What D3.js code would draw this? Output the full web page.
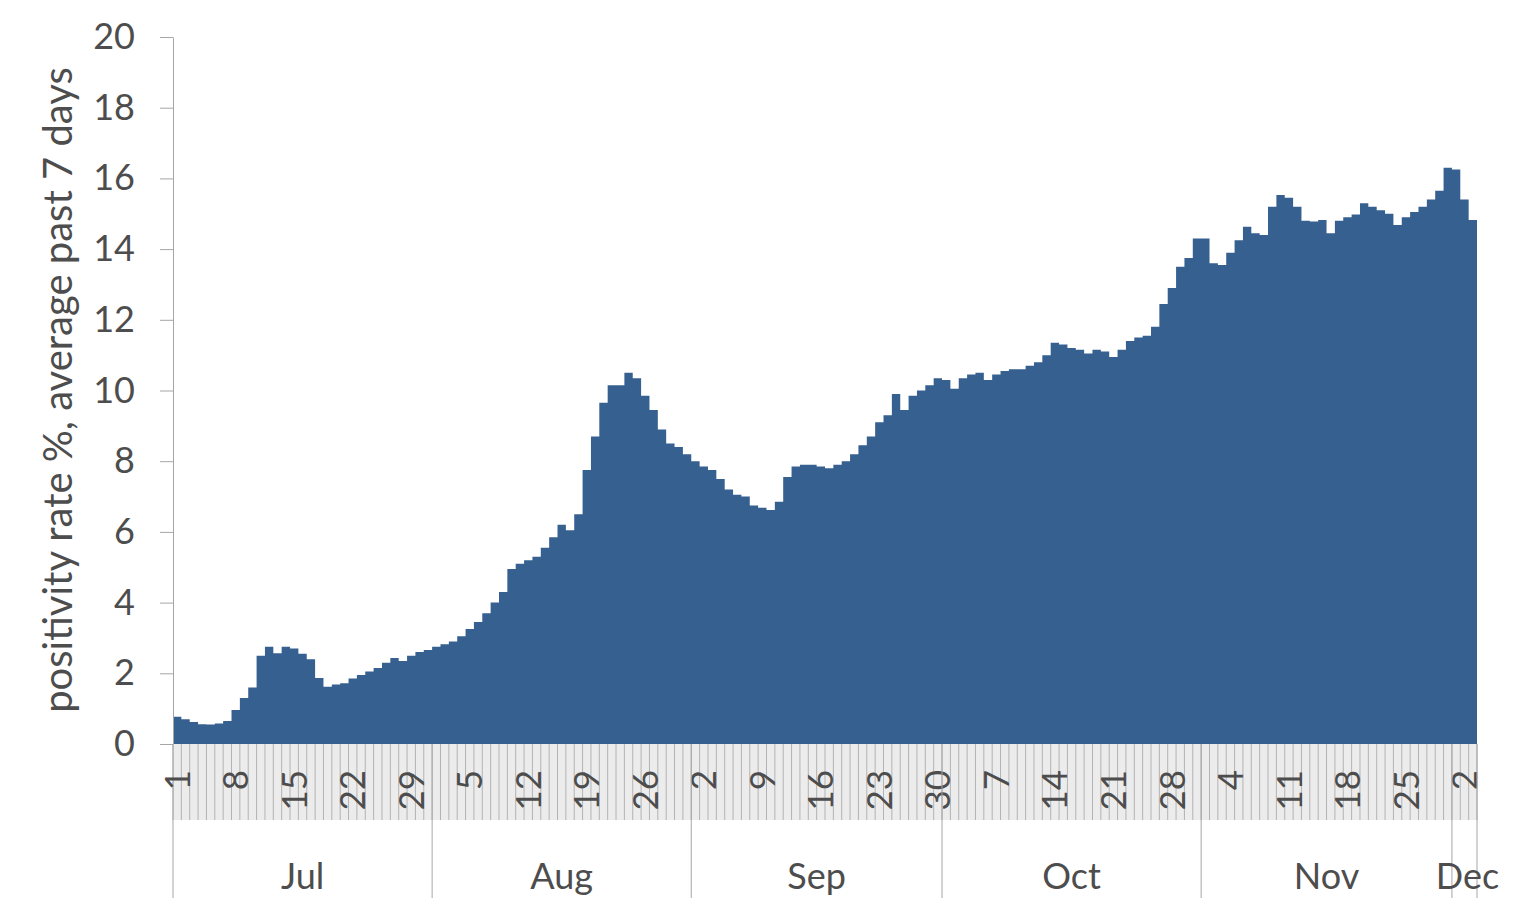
<!DOCTYPE html>
<html><head><meta charset="utf-8">
<script src="https://cdn.jsdelivr.net/npm/d3@7"></script>
<style>body{margin:0;background:#fff;overflow:hidden}</style>
</head><body><svg id="c" width="1520" height="898"></svg>
<script>
const months = ["Jul","Aug","Sep","Oct","Nov","Dec"];
const monthDays = [31,31,30,31,30,3];
const dayTickLabels = ["1","8","15","22","29","5","12","19","26","2","9","16","23","30","7","14","21","28","4","11","18","25","2"];
const yTicks = [0,2,4,6,8,10,12,14,16,18,20];
const yTitle = "positivity rate %, average past 7 days";
const julValues = [0.77,0.70,0.62,0.56,0.55,0.58,0.65,0.96,1.30,1.60,
  2.50,2.75,2.57,2.75,2.70,2.55,2.40,1.87,1.62,1.68,
  1.72,1.85,1.95,2.05,2.15,2.30,2.43,2.35,2.50,2.60,2.66];
const augValues = [2.75,2.82,2.90,3.05,3.25,3.45,3.70,4.00,4.30,4.95,
  5.10,5.20,5.30,5.55,5.85,6.20,6.05,6.50,7.75,8.70,
  9.65,10.15,10.15,10.50,10.35,9.85,9.45,8.90,8.50,8.40,8.20];
const sepValues = [8.00,7.85,7.75,7.50,7.20,7.05,7.00,6.75,6.68,6.62,
  6.85,7.55,7.85,7.90,7.90,7.85,7.80,7.90,8.00,8.20,
  8.45,8.70,9.10,9.30,9.90,9.45,9.85,10.00,10.15,10.35];
const octValues = [10.30,10.05,10.35,10.45,10.50,10.30,10.45,10.55,10.60,10.60,
  10.70,10.80,11.00,11.35,11.30,11.20,11.15,11.05,11.15,11.10,
  10.95,11.15,11.40,11.50,11.55,11.80,12.45,12.90,13.50,13.75,14.30];
const novValues = [14.30,13.60,13.55,13.90,14.25,14.63,14.45,14.40,15.20,15.53,
  15.45,15.20,14.80,14.78,14.82,14.45,14.80,14.90,14.98,15.30,
  15.20,15.10,15.00,14.68,14.90,15.05,15.20,15.40,15.65,16.30];
const decValues = [16.25,15.40,14.82];

const values = [].concat(julValues, augValues, sepValues, octValues, novValues, decValues);

const svg = d3.select("#c");
const X0 = 173, X1 = 1477, Y_TOP = 37, Y_BASE = 744, BAND_BOTTOM = 820, BOTTOM = 898;
const TEXT = "#4d4d4d", AXIS = "#a6a6a6", FILL = "#36608f";
const FONT = "Lato, 'Open Sans', sans-serif";

const x = d3.scaleBand().domain(d3.range(values.length)).range([X0, X1]).padding(0);
const y = d3.scaleLinear().domain([0, 20]).range([Y_BASE, Y_TOP]);
const xEdge = i => i < values.length ? x(i) : X1;

// category band (daily tick area)
svg.append("rect").attr("x", X0).attr("y", Y_BASE).attr("width", X1 - X0)
  .attr("height", BAND_BOTTOM - Y_BASE).attr("fill", "#ececec");
svg.append("g").selectAll("line").data(d3.range(values.length + 1)).join("line")
  .attr("x1", xEdge).attr("x2", xEdge)
  .attr("y1", Y_BASE).attr("y2", BAND_BOTTOM)
  .attr("stroke", "#b3b3b3").attr("stroke-width", 1);

// area as a daily step shape
const stepData = values.map((v, i) => [i, v]).concat([[values.length, values[values.length - 1]]]);
const area = d3.area().x(d => xEdge(d[0])).y0(y(0)).y1(d => y(d[1])).curve(d3.curveStepAfter);
svg.append("path").datum(stepData).attr("d", area).attr("fill", FILL);

// y axis
const yAxis = d3.axisLeft(y).tickValues(yTicks).tickSize(13).tickSizeOuter(0).tickPadding(25);
const gy = svg.append("g").attr("transform", `translate(${X0},0)`).call(yAxis);
gy.select(".domain").attr("stroke", AXIS);
gy.selectAll(".tick line").attr("stroke", AXIS);
gy.selectAll(".tick text").attr("fill", TEXT).style("font-family", FONT).style("font-size", "36px");

// y axis line extension through category levels
svg.append("line").attr("x1", X0).attr("x2", X0).attr("y1", Y_BASE).attr("y2", BOTTOM)
  .attr("stroke", AXIS);

// day labels every 7 days
svg.append("g").selectAll("text").data(dayTickLabels).join("text")
  .attr("transform", (d, k) => `translate(${x(k * 7) + x.bandwidth() / 2},770) rotate(-90)`)
  .attr("text-anchor", "end").attr("dy", "0.36em")
  .attr("fill", TEXT).style("font-family", FONT).style("font-size", "35px")
  .text(d => d);

// month groups
const starts = [];
let acc = 0;
monthDays.forEach(n => { starts.push(acc); acc += n; });
svg.append("g").selectAll("line").data(starts.slice(1).concat([values.length])).join("line")
  .attr("x1", d => xEdge(d)).attr("x2", d => xEdge(d))
  .attr("y1", Y_BASE).attr("y2", BOTTOM).attr("stroke", AXIS);
svg.append("g").selectAll("text").data(months).join("text")
  .attr("x", (d, k) => (xEdge(starts[k]) + xEdge(starts[k] + monthDays[k])) / 2 + (k === 5 ? 3 : 0))
  .attr("y", 889).attr("text-anchor", "middle")
  .attr("fill", TEXT).style("font-family", FONT).style("font-size", "36px")
  .text(d => d);

// y title
svg.append("text").attr("transform", `translate(58,390) rotate(-90)`)
  .attr("text-anchor", "middle").attr("dy", "0.36em")
  .attr("fill", TEXT).style("font-family", FONT).style("font-size", "40px")
  .text(yTitle);
</script></body></html>
